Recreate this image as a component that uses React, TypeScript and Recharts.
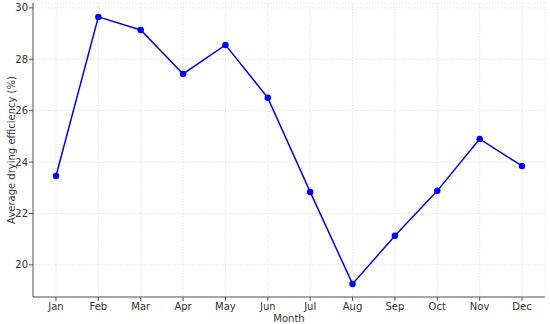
import React from 'react';
import { LineChart, Line, XAxis, YAxis, CartesianGrid } from 'recharts';

const months = ['Jan', 'Feb', 'Mar', 'Apr', 'May', 'Jun', 'Jul', 'Aug', 'Sep', 'Oct', 'Nov', 'Dec'];
const efficiency = [23.46, 29.65, 29.14, 27.43, 28.56, 26.5, 22.84, 19.26, 21.13, 22.88, 24.9, 23.85];
const yTicks = [20, 22, 24, 26, 28, 30];

const data = months.map((month, i) => ({ month, efficiency: efficiency[i] }));

const font = 'DejaVu Sans, sans-serif';

const YLabel = () => (
    <text
        x={15}
        y={150}
        transform="rotate(-90 15 150)"
        textAnchor="middle"
        fontSize={10}
        fill="#333"
        fontFamily={font}
    >
        Average drying efficiency (%)
    </text>
);

const App: React.FC = () => {
    return (
        <div style={{ position: 'absolute', left: 0, top: 0, background: '#fff' }}>
            <LineChart width={550} height={324} data={data} margin={{ top: 3, right: 5, bottom: 0, left: 0 }}>
                <CartesianGrid stroke="#e6e6e6" strokeDasharray="1.5 1.5" />
                <XAxis
                    dataKey="month"
                    padding={{ left: 23, right: 23 }}
                    height={27}
                    tickSize={4}
                    tickMargin={2}
                    tick={{ fontSize: 10, fill: '#333', fontFamily: font }}
                    stroke="#555"
                    label={{ value: 'Month', position: 'insideBottom', offset: 2, fontSize: 10, fill: '#333', fontFamily: font }}
                />
                <YAxis
                    width={33}
                    domain={[18.75, 30.19]}
                    ticks={yTicks}
                    allowDataOverflow
                    tickSize={4}
                    tickMargin={1}
                    tick={{ fontSize: 10, fill: '#333', fontFamily: font }}
                    stroke="#555"
                    label={<YLabel />}
                />
                <Line
                    type="linear"
                    dataKey="efficiency"
                    stroke="#0000ee"
                    strokeWidth={1.5}
                    dot={{ r: 2.5, fill: '#0000ee', stroke: '#0000ee' }}
                    isAnimationActive={false}
                />
            </LineChart>
        </div>
    );
};

export default App;
